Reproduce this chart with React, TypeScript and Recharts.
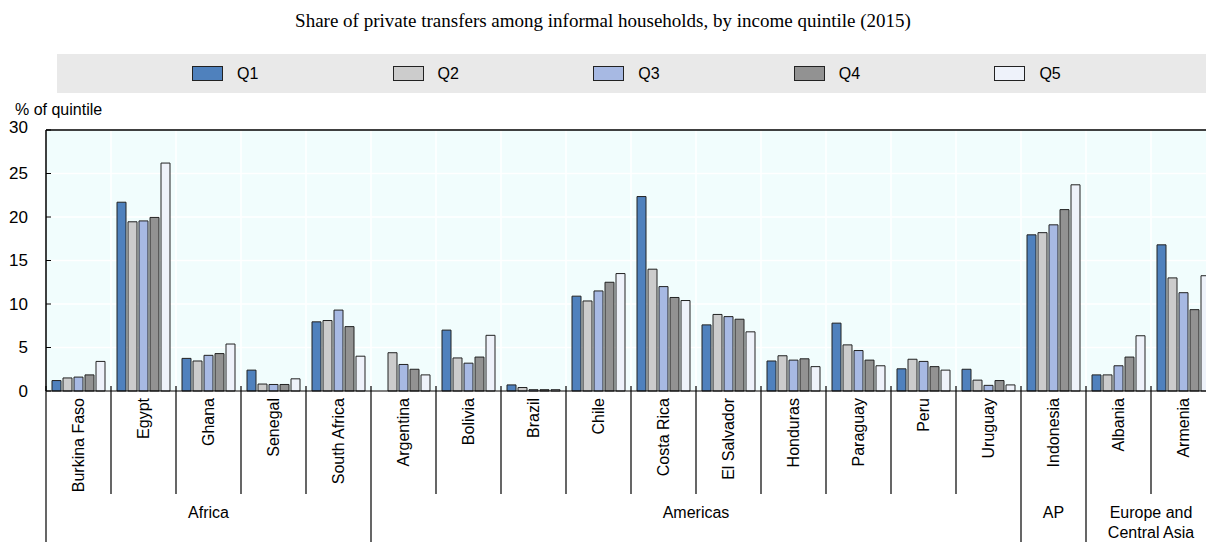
import React from 'react';
import { BarChart, Bar, XAxis, YAxis, CartesianGrid, ReferenceLine } from 'recharts';

// countries in the order they sit on the axis, with the region each one belongs to
const countries = [
  'Burkina Faso', 'Egypt', 'Ghana', 'Senegal', 'South Africa',
  'Argentina', 'Bolivia', 'Brazil', 'Chile', 'Costa Rica', 'El Salvador',
  'Honduras', 'Paraguay', 'Peru', 'Uruguay',
  'Indonesia',
  'Albania', 'Armenia',
];
const regions = [
  'Africa', 'Africa', 'Africa', 'Africa', 'Africa',
  'Americas', 'Americas', 'Americas', 'Americas', 'Americas', 'Americas',
  'Americas', 'Americas', 'Americas', 'Americas',
  'AP',
  'Europe and\nCentral Asia', 'Europe and\nCentral Asia',
];

// share of private transfers, % of quintile
const q1 = [1.2, 21.7, 3.75, 2.4, 7.95, null, 7.0, 0.7, 10.9, 22.35, 7.6, 3.45, 7.8, 2.55, 2.5, 17.95, 1.85, 16.8];
const q2 = [1.5, 19.45, 3.45, 0.8, 8.1, 4.4, 3.8, 0.4, 10.35, 14.0, 8.8, 4.05, 5.3, 3.65, 1.25, 18.2, 1.85, 13.0];
const q3 = [1.6, 19.55, 4.1, 0.75, 9.3, 3.05, 3.2, 0.15, 11.5, 12.0, 8.55, 3.55, 4.65, 3.4, 0.65, 19.1, 2.9, 11.3];
const q4 = [1.85, 19.95, 4.3, 0.75, 7.4, 2.5, 3.9, 0.15, 12.5, 10.75, 8.25, 3.7, 3.55, 2.8, 1.2, 20.85, 3.9, 9.35];
const q5 = [3.4, 26.2, 5.4, 1.4, 4.0, 1.85, 6.4, 0.15, 13.5, 10.4, 6.8, 2.8, 2.9, 2.4, 0.7, 23.7, 6.35, 13.25];

const quintiles = ['Q1', 'Q2', 'Q3', 'Q4', 'Q5'];
const quintileValues = [q1, q2, q3, q4, q5];
const quintileColors = ['#4f81bd', '#cccccc', '#a7b9e3', '#929292', '#eef2fa'];
const yTicks = [0, 5, 10, 15, 20, 25, 30];

const data = countries.map((country, i) => {
  const row: any = { country, region: regions[i] };
  quintiles.forEach((q, k) => { row[q] = quintileValues[k][i]; });
  return row;
});

const SANS = "'Liberation Sans', Arial, sans-serif";
const FONT_SIZE = 16;
const CHART_W = 1216;
const CHART_H = 542;

function ValueTick({ x, y, payload }: any) {
  const top = payload.value === yTicks[yTicks.length - 1];
  return (
    <g>
      <line x1={x} x2={x + 5} y1={y} y2={y} stroke="#000" strokeWidth={1} />
      <text x={x - 18} y={top ? y - 3 : y} dy="0.35em" textAnchor="end" fontFamily={SANS} fontSize={17} fill="#000">
        {payload.value}
      </text>
    </g>
  );
}

function CountryTick({ x, y, payload, index }: any) {
  const i = payload.index ?? index;
  const half = payload.offset || 32.5;
  const left = x - half;
  const regionStart = i === 0 || regions[i] !== regions[i - 1];
  let regionLabel = null;
  if (regionStart) {
    const count = regions.filter((r) => r === regions[i]).length;
    const cx = left + count * half;
    const lines = regions[i].split('\n');
    regionLabel = (
      <text x={cx} y={y + 127} textAnchor="middle" fontFamily={SANS} fontSize={FONT_SIZE} fill="#000">
        {lines.map((ln, k) => (
          <tspan key={k} x={cx} dy={k === 0 ? 0 : 20}>{ln}</tspan>
        ))}
      </text>
    );
  }
  return (
    <g>
      <line x1={left} x2={left} y1={y - 5} y2={regionStart ? CHART_H : y + 103} stroke="#000" strokeWidth={1.2} />
      <text
        x={x}
        y={y + 7}
        dy="0.35em"
        textAnchor="end"
        transform={`rotate(-90 ${x} ${y + 7})`}
        fontFamily={SANS}
        fontSize={FONT_SIZE}
        fill="#000"
      >
        {payload.value}
      </text>
      {regionLabel}
    </g>
  );
}

export default function App() {
  return (
    <div style={{ position: 'absolute', left: 0, top: 0, width: 1206, height: 542, overflow: 'hidden', background: '#fff' }}>
      <div style={{ position: 'absolute', left: 0, top: 10, width: 1206, textAlign: 'center', fontFamily: "'Liberation Serif', 'Times New Roman', serif", fontSize: 19, lineHeight: '22px', color: '#000' }}>
        Share of private transfers among informal households, by income quintile (2015)
      </div>

      {/* legend band */}
      <div style={{ position: 'absolute', left: 57, top: 54, width: 1149, height: 39, background: '#e9e9e9' }}>
        {quintiles.map((q, k) => (
          <div key={q} style={{ position: 'absolute', left: 135 + k * 200.6, top: 0, height: 39, display: 'flex', alignItems: 'center' }}>
            <div style={{ width: 29, height: 13, background: quintileColors[k], border: '1px solid #222' }} />
            <span style={{ marginLeft: 14, fontFamily: SANS, fontSize: FONT_SIZE, color: '#000' }}>{q}</span>
          </div>
        ))}
      </div>

      <div style={{ position: 'absolute', left: 15, top: 102, fontFamily: SANS, fontSize: FONT_SIZE, lineHeight: '16px', color: '#000' }}>
        % of quintile
      </div>

      <div style={{ position: 'absolute', left: 0, top: 0 }}>
        <BarChart
          width={CHART_W}
          height={CHART_H}
          data={data}
          margin={{ top: 130, right: 0, bottom: 0, left: 0 }}
          barCategoryGap={6}
          barGap={2}
        >
          <CartesianGrid
            fill="#f1fdfd"
            stroke="#ffffff"
            strokeWidth={1.5}
            verticalCoordinatesGenerator={({ offset }: any) =>
              countries.map((_, i) => offset.left + (i * offset.width) / countries.length).slice(1)
            }
          />
          <XAxis
            dataKey="country"
            height={151}
            interval={0}
            tickLine={false}
            tickSize={0}
            tickMargin={0}
            axisLine={{ stroke: '#000', strokeWidth: 1.2 }}
            tick={<CountryTick />}
          />
          <YAxis
            width={46}
            domain={[0, 30]}
            ticks={yTicks}
            interval={0}
            tickLine={false}
            tickSize={0}
            tickMargin={0}
            axisLine={{ stroke: '#000', strokeWidth: 1.5 }}
            tick={<ValueTick />}
          />
          <ReferenceLine y={30} stroke="#000" strokeWidth={1.5} ifOverflow="visible" />
          {quintiles.map((q, k) => (
            <Bar key={q} dataKey={q} fill={quintileColors[k]} stroke="#222" strokeWidth={1} isAnimationActive={false} />
          ))}
        </BarChart>
      </div>
    </div>
  );
}
